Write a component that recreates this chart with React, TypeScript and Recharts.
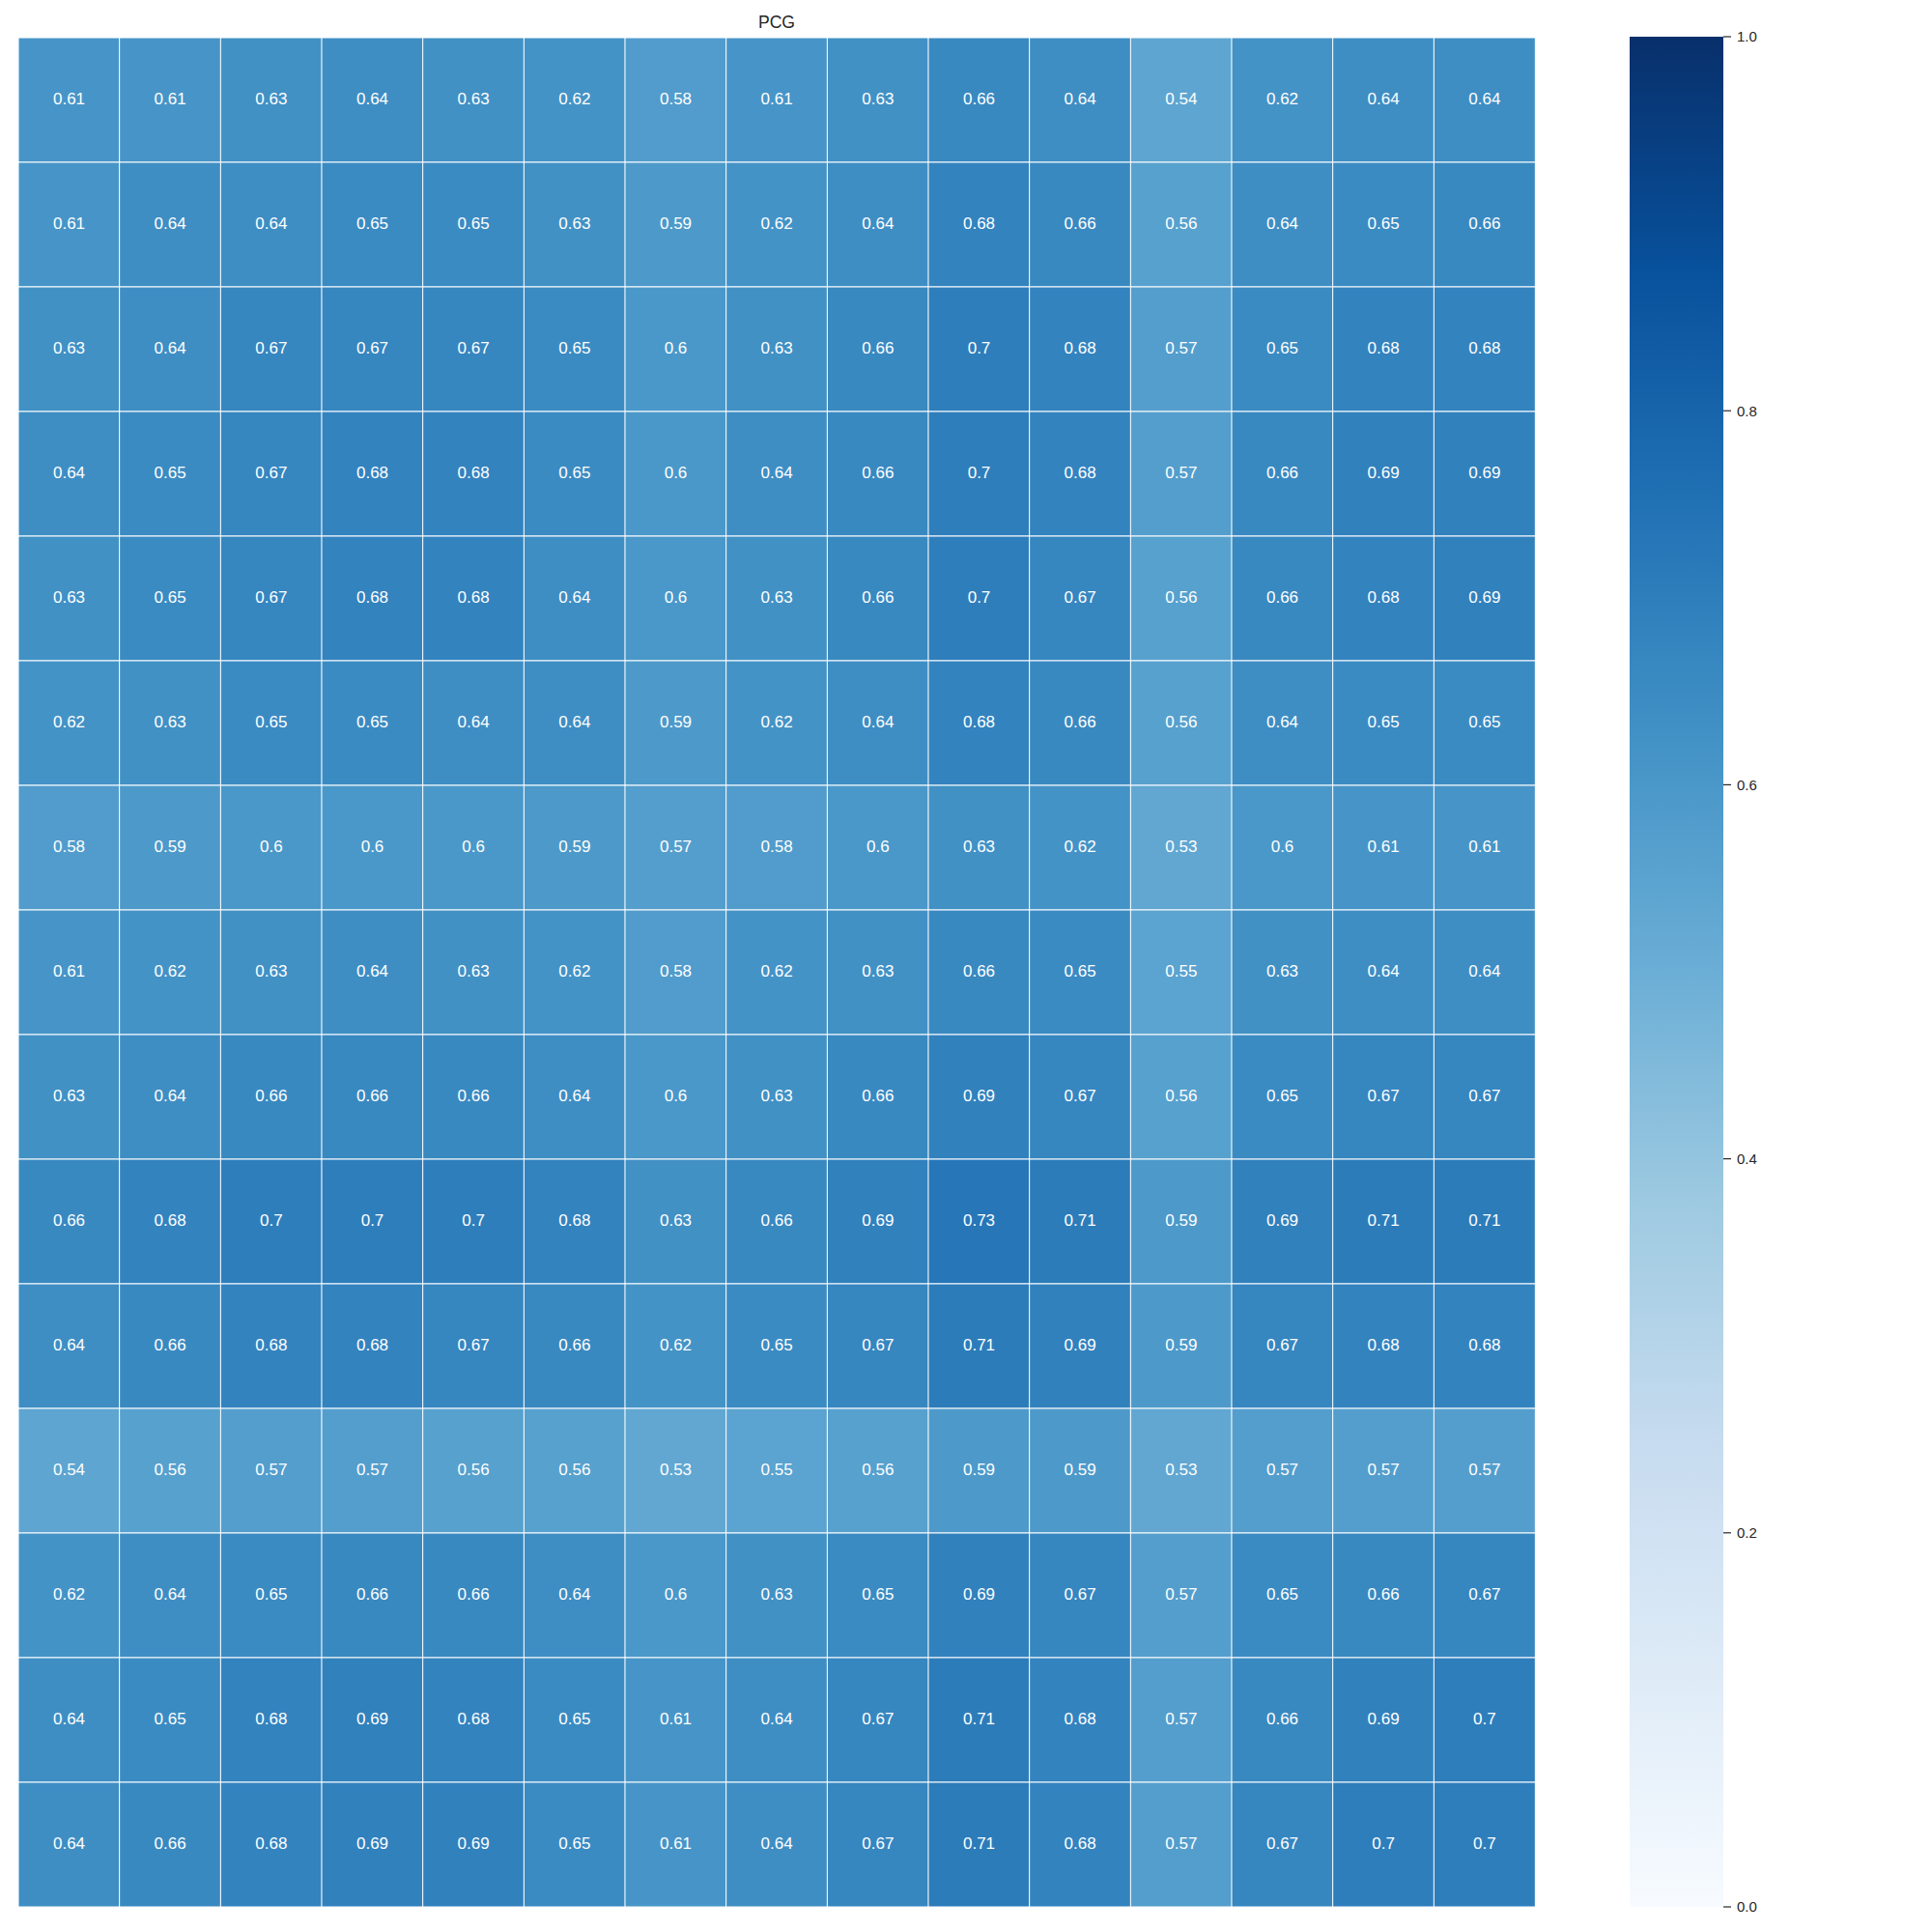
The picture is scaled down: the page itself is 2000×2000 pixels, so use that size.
import React from 'react';
import { BarChart, Bar, XAxis, YAxis, Cell, LabelList } from 'recharts';

// column categories (axis hidden in the original)
const colLabels = ['c0', 'c1', 'c2', 'c3', 'c4', 'c5', 'c6', 'c7', 'c8', 'c9', 'c10', 'c11', 'c12', 'c13', 'c14'];

// one array per heatmap row, top to bottom
const row00 = [0.61, 0.61, 0.63, 0.64, 0.63, 0.62, 0.58, 0.61, 0.63, 0.66, 0.64, 0.54, 0.62, 0.64, 0.64];
const row01 = [0.61, 0.64, 0.64, 0.65, 0.65, 0.63, 0.59, 0.62, 0.64, 0.68, 0.66, 0.56, 0.64, 0.65, 0.66];
const row02 = [0.63, 0.64, 0.67, 0.67, 0.67, 0.65, 0.6, 0.63, 0.66, 0.7, 0.68, 0.57, 0.65, 0.68, 0.68];
const row03 = [0.64, 0.65, 0.67, 0.68, 0.68, 0.65, 0.6, 0.64, 0.66, 0.7, 0.68, 0.57, 0.66, 0.69, 0.69];
const row04 = [0.63, 0.65, 0.67, 0.68, 0.68, 0.64, 0.6, 0.63, 0.66, 0.7, 0.67, 0.56, 0.66, 0.68, 0.69];
const row05 = [0.62, 0.63, 0.65, 0.65, 0.64, 0.64, 0.59, 0.62, 0.64, 0.68, 0.66, 0.56, 0.64, 0.65, 0.65];
const row06 = [0.58, 0.59, 0.6, 0.6, 0.6, 0.59, 0.57, 0.58, 0.6, 0.63, 0.62, 0.53, 0.6, 0.61, 0.61];
const row07 = [0.61, 0.62, 0.63, 0.64, 0.63, 0.62, 0.58, 0.62, 0.63, 0.66, 0.65, 0.55, 0.63, 0.64, 0.64];
const row08 = [0.63, 0.64, 0.66, 0.66, 0.66, 0.64, 0.6, 0.63, 0.66, 0.69, 0.67, 0.56, 0.65, 0.67, 0.67];
const row09 = [0.66, 0.68, 0.7, 0.7, 0.7, 0.68, 0.63, 0.66, 0.69, 0.73, 0.71, 0.59, 0.69, 0.71, 0.71];
const row10 = [0.64, 0.66, 0.68, 0.68, 0.67, 0.66, 0.62, 0.65, 0.67, 0.71, 0.69, 0.59, 0.67, 0.68, 0.68];
const row11 = [0.54, 0.56, 0.57, 0.57, 0.56, 0.56, 0.53, 0.55, 0.56, 0.59, 0.59, 0.53, 0.57, 0.57, 0.57];
const row12 = [0.62, 0.64, 0.65, 0.66, 0.66, 0.64, 0.6, 0.63, 0.65, 0.69, 0.67, 0.57, 0.65, 0.66, 0.67];
const row13 = [0.64, 0.65, 0.68, 0.69, 0.68, 0.65, 0.61, 0.64, 0.67, 0.71, 0.68, 0.57, 0.66, 0.69, 0.7];
const row14 = [0.64, 0.66, 0.68, 0.69, 0.69, 0.65, 0.61, 0.64, 0.67, 0.71, 0.68, 0.57, 0.67, 0.7, 0.7];

const rows = [row00, row01, row02, row03, row04, row05, row06, row07, row08, row09, row10, row11, row12, row13, row14];

const cbTicks = [0, 0.2, 0.4, 0.6, 0.8, 1.0];
const cbData = [{ name: 'scale', full: 1 }];

// matplotlib "Blues" nodes
const BLUES = ['#f7fbff', '#deebf7', '#c6dbef', '#9ecae1', '#6baed6', '#4292c6', '#2171b5', '#08519c', '#08306b'];

const hexToRgb = (h: string) => [1, 3, 5].map((i) => parseInt(h.slice(i, i + 2), 16));

function blues(v: number) {
  const t = Math.max(0, Math.min(1, v)) * (BLUES.length - 1);
  const i = Math.min(Math.floor(t), BLUES.length - 2);
  const f = t - i;
  const a = hexToRgb(BLUES[i]);
  const b = hexToRgb(BLUES[i + 1]);
  const c = a.map((x, k) => Math.round(x + (b[k] - x) * f));
  return `rgb(${c[0]},${c[1]},${c[2]})`;
}

const heatData = colLabels.map((col, ci) => {
  const o: any = { col };
  rows.forEach((r, ri) => {
    o['s' + ri] = 1;
    o['v' + ri] = r[ci];
  });
  return o;
});

const FONT = '"Liberation Sans", Arial, sans-serif';
const INK = '#262626';
const CELL_FS = 17;

// annotation text, digits centred a touch above the cell middle like matplotlib
const CellLabel = (props: any) => {
  const { x, y, width, height, value } = props;
  return (
    <text
      x={x + width / 2}
      y={y + height / 2 + CELL_FS * 0.355 - 2}
      textAnchor="middle"
      fill="#ffffff"
      fontSize={CELL_FS}
      fontFamily={FONT}
    >
      {String(value)}
    </text>
  );
};

export default function App() {
  return (
    <div style={{ position: 'absolute', left: 0, top: 0, width: 2000, height: 2000, background: '#fff', fontFamily: FONT }}>
      <div
        style={{
          position: 'absolute',
          left: 19,
          top: 15,
          width: 1570,
          textAlign: 'center',
          fontSize: 17.6,
          lineHeight: 1,
          color: INK,
        }}
      >
        PCG
      </div>

      {/* heatmap */}
      <div style={{ position: 'absolute', left: 0, top: 0 }}>
        <BarChart
          width={1600}
          height={2000}
          data={heatData}
          margin={{ top: 39, left: 19, right: 11, bottom: 26 }}
          barCategoryGap={0}
          barGap={0}
        >
          <XAxis dataKey="col" hide />
          <YAxis hide reversed type="number" domain={[0, 15]} />
          {rows.map((r, ri) => (
            <Bar
              key={ri}
              dataKey={'s' + ri}
              stackId="grid"
              isAnimationActive={false}
              stroke="#ffffff"
              strokeWidth={1}
            >
              {r.map((v, ci) => (
                <Cell key={ci} fill={blues(v)} />
              ))}
              <LabelList dataKey={'v' + ri} content={CellLabel} />
            </Bar>
          ))}
        </BarChart>
      </div>

      {/* colorbar */}
      <div style={{ position: 'absolute', left: 1600, top: 0 }}>
        <BarChart
          width={400}
          height={2000}
          data={cbData}
          margin={{ top: 38, left: 87, right: 156, bottom: 26 }}
          barCategoryGap={0}
        >
          <defs>
            <linearGradient id="bluesGrad" x1="0" y1="1" x2="0" y2="0">
              {BLUES.map((c, i) => (
                <stop key={i} offset={`${(i / (BLUES.length - 1)) * 100}%`} stopColor={c} />
              ))}
            </linearGradient>
          </defs>
          <XAxis dataKey="name" hide />
          <YAxis
            orientation="right"
            type="number"
            domain={[0, 1]}
            ticks={cbTicks}
            width={60}
            axisLine={false}
            tickSize={8}
            tickMargin={6}
            tickLine={{ stroke: INK, strokeWidth: 1.2 }}
            tick={{ fill: INK, fontSize: 15, fontFamily: FONT }}
            tickFormatter={(v: number) => v.toFixed(1)}
          />
          <Bar dataKey="full" fill="url(#bluesGrad)" isAnimationActive={false} />
        </BarChart>
      </div>
    </div>
  );
}
